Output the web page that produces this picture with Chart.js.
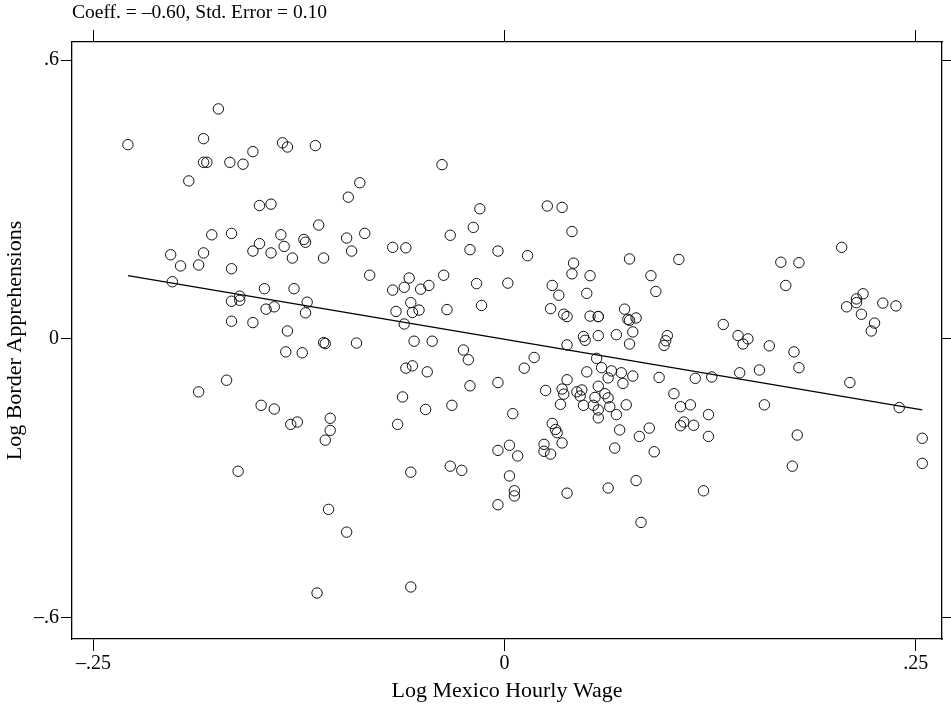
<!DOCTYPE html>
<html>
<head>
<meta charset="utf-8">
<script src="https://cdn.jsdelivr.net/npm/chart.js@4/dist/chart.umd.min.js"></script>
<style>
  body { margin: 0; background: #fff; }
  canvas { display: block; }
</style>
</head>
<body>
<canvas id="wageChartCanvas" width="951" height="710"></canvas>
<script>
// Log Mexico hourly wage (x) and log border apprehensions (y)
const wage = [
    -0.174, -0.229, -0.183, -0.135, -0.132, -0.183, -0.181, -0.167, -0.159, -0.153,
    -0.192, -0.149, -0.142, -0.178, -0.166, -0.136, -0.149, -0.153, -0.142, -0.134,
    -0.129, -0.122, -0.121, -0.203, -0.183, -0.197, -0.186, -0.166, -0.115, -0.038,
    -0.088, -0.095, -0.015, -0.113, -0.019, -0.033, -0.085, -0.096, -0.093, -0.068,
    -0.060, -0.021, -0.004, -0.110, 0.026, 0.035, 0.041, 0.014, 0.042, 0.076,
    0.106, 0.205, 0.168, 0.179, -0.202, -0.161, -0.161, -0.166, -0.146, -0.128,
    -0.140, -0.145, -0.120, -0.121, -0.166, -0.153, -0.132, -0.133, -0.123, -0.169,
    -0.186, -0.148, -0.140, -0.130, -0.126, -0.082, -0.058, -0.068, -0.061, -0.051,
    -0.046, -0.037, -0.017, 0.002, -0.057, -0.066, -0.056, -0.052, -0.035, -0.014,
    -0.061, -0.109, -0.110, -0.090, -0.055, -0.044, -0.025, -0.022, -0.060, -0.056,
    -0.047, -0.021, -0.004, -0.062, -0.048, -0.032, 0.005, -0.106, -0.106, -0.109,
    -0.065, -0.004, 0.003, 0.008, -0.033, 0.041, 0.052, 0.089, 0.029, 0.033,
    0.050, 0.092, 0.028, 0.036, 0.038, 0.052, 0.057, 0.057, 0.073, 0.075,
    0.076, 0.080, 0.133, 0.048, 0.049, 0.057, 0.068, 0.078, 0.099, 0.098,
    0.097, 0.076, 0.038, 0.018, 0.012, 0.056, 0.059, 0.065, 0.071, 0.050,
    0.063, 0.078, 0.072, 0.094, 0.116, 0.126, 0.038, 0.025, 0.035, 0.036,
    0.057, 0.044, 0.047, 0.046, 0.061, 0.063, 0.055, 0.103, 0.034, 0.048,
    0.054, 0.064, 0.074, 0.107, 0.113, 0.057, 0.057, 0.068, 0.124, 0.029,
    0.031, 0.032, 0.035, 0.070, 0.088, 0.082, 0.107, 0.109, 0.115, 0.124,
    0.024, 0.024, 0.028, 0.067, 0.091, 0.171, 0.218, 0.214, 0.214, 0.208,
    0.217, 0.230, 0.238, 0.225, 0.223, 0.142, 0.148, 0.145, 0.161, 0.176,
    0.179, 0.155, 0.143, 0.210, 0.158, 0.240, 0.178, 0.254, 0.254, -0.162,
    -0.057, -0.026, 0.003, 0.006, 0.006, -0.004, -0.107, -0.096, -0.114, -0.057,
    0.175, 0.038, 0.063, 0.080, 0.121, 0.083
];
const apprehensions = [
    0.495, 0.418, 0.431, 0.422, 0.413, 0.380, 0.380, 0.380, 0.376, 0.403,
    0.340, 0.287, 0.290, 0.224, 0.227, 0.224, 0.205, 0.189, 0.185, 0.199,
    0.174, 0.214, 0.208, 0.181, 0.185, 0.157, 0.159, 0.151, 0.416, 0.375,
    0.336, 0.305, 0.280, 0.245, 0.240, 0.223, 0.227, 0.217, 0.189, 0.197,
    0.196, 0.192, 0.189, 0.174, 0.286, 0.283, 0.231, 0.179, 0.163, 0.172,
    0.171, 0.197, 0.165, 0.164, 0.123, 0.092, 0.083, 0.081, 0.108, 0.108,
    0.069, 0.064, 0.079, 0.056, 0.038, 0.035, 0.017, -0.028, -0.030, -0.089,
    -0.114, -0.143, -0.151, -0.184, -0.179, 0.137, 0.131, 0.105, 0.111, 0.107,
    0.115, 0.137, 0.119, 0.120, 0.078, 0.059, 0.057, 0.062, 0.063, 0.072,
    0.032, -0.010, -0.008, -0.009, -0.005, -0.005, -0.024, -0.045, -0.063, -0.058,
    -0.071, -0.101, -0.094, -0.125, -0.152, -0.143, -0.161, -0.171, -0.197, -0.218,
    -0.184, -0.240, -0.229, -0.252, -0.274, 0.140, 0.136, 0.136, 0.115, 0.094,
    0.098, 0.102, 0.065, 0.053, 0.048, 0.049, 0.048, 0.048, 0.064, 0.042,
    0.040, 0.045, 0.031, 0.005, -0.003, 0.007, 0.009, 0.015, 0.007, -0.004,
    -0.014, -0.011, -0.013, -0.040, -0.063, -0.042, -0.062, -0.069, -0.073, -0.071,
    -0.084, -0.080, -0.096, -0.083, -0.085, -0.082, -0.088, -0.111, -0.108, -0.119,
    -0.102, -0.114, -0.110, -0.123, -0.118, -0.127, -0.126, -0.118, -0.141, -0.143,
    -0.143, -0.146, -0.142, -0.146, -0.142, -0.153, -0.170, -0.163, -0.163, -0.182,
    -0.195, -0.202, -0.224, -0.196, -0.192, -0.210, -0.187, -0.179, -0.186, -0.210,
    -0.227, -0.242, -0.248, -0.235, -0.243, 0.115, 0.097, 0.086, 0.078, 0.069,
    0.053, 0.077, 0.071, 0.034, 0.017, 0.007, 0.000, -0.011, -0.015, -0.028,
    -0.062, -0.067, -0.073, -0.094, -0.142, -0.148, -0.207, -0.214, -0.268, -0.285,
    -0.287, -0.283, -0.295, -0.327, -0.338, -0.357, -0.367, -0.416, -0.547, -0.534,
    -0.274, -0.332, -0.321, -0.305, -0.327, -0.395
];

// fitted line, ends (slope about -0.60)
const fitWage = [-0.229, 0.254];
const fitApprehensions = [0.136, -0.153];

const xTicks = [-0.25, 0, 0.25];
const yTicks = [-0.6, 0, 0.6];

const serif = "'Liberation Serif', 'DejaVu Serif', serif";

function fmt(v) {
    if (v === 0) return '0';
    return (v < 0 ? '\u2013' : '') + String(Math.abs(v)).replace(/^0/, '');
}

document.addEventListener("DOMContentLoaded", () => {
    const ctx = document.getElementById('wageChartCanvas').getContext('2d');

    const gridOpts = len => ({
        drawOnChartArea: false,
        drawTicks: true,
        tickLength: len,
        color: '#000',
        lineWidth: 1
    });
    const borderOpts = { display: true, color: '#000', width: 1.3 };

    new Chart(ctx, {
        type: 'scatter',
        data: {
            datasets: [{
                data: wage.map((x, i) => ({ x: x, y: apprehensions[i] })),
                pointStyle: 'circle',
                pointRadius: 5.2,
                pointBorderWidth: 1,
                borderColor: '#111',
                backgroundColor: 'rgba(0,0,0,0)'
            }, {
                type: 'line',
                data: fitWage.map((x, i) => ({ x: x, y: fitApprehensions[i] })),
                borderColor: '#000',
                borderWidth: 1.3,
                pointRadius: 0,
                fill: false
            }]
        },
        options: {
            responsive: false,
            animation: false,
            devicePixelRatio: 1,
            layout: { padding: 0 },
            plugins: { legend: { display: false }, tooltip: { enabled: false } },
            scales: {
                x: {
                    type: 'linear', position: 'bottom', min: -0.263, max: 0.266,
                    afterBuildTicks: s => { s.ticks = xTicks.map(v => ({ value: v })); },
                    afterFit: s => { s.height = 71; },
                    ticks: { callback: fmt, color: '#000', font: { family: serif, size: 20 }, padding: 1, maxRotation: 0 },
                    grid: gridOpts(12),
                    border: borderOpts,
                    title: { display: true, text: 'Log Mexico Hourly Wage', color: '#000',
                             font: { family: serif, size: 22 }, padding: { top: 0, bottom: 6 } }
                },
                x2: {
                    type: 'linear', position: 'top', min: -0.263, max: 0.266,
                    afterBuildTicks: s => { s.ticks = xTicks.map(v => ({ value: v })); },
                    afterFit: s => { s.height = 42; },
                    ticks: { display: false },
                    grid: gridOpts(12),
                    border: borderOpts,
                    title: { display: true, text: 'Coeff. = \u20130.60, Std. Error = 0.10', align: 'start',
                             color: '#000', font: { family: serif, size: 19.5 }, padding: { top: 1, bottom: 0 } }
                },
                y: {
                    type: 'linear', position: 'left', min: -0.646, max: 0.639,
                    afterBuildTicks: s => { s.ticks = yTicks.map(v => ({ value: v })); },
                    afterFit: s => { s.width = 72; },
                    ticks: { callback: fmt, color: '#000', font: { family: serif, size: 20 }, padding: 2 },
                    grid: gridOpts(11),
                    border: borderOpts,
                    title: { display: true, text: 'Log Border Apprehensions', color: '#000',
                             font: { family: serif, size: 22 }, padding: { top: 2, bottom: 0 } }
                },
                y2: {
                    type: 'linear', position: 'right', min: -0.646, max: 0.639,
                    afterBuildTicks: s => { s.ticks = yTicks.map(v => ({ value: v })); },
                    afterFit: s => { s.width = 9; },
                    ticks: { display: false },
                    grid: gridOpts(9),
                    border: borderOpts
                }
            }
        }
    });
});
</script>
</body>
</html>
